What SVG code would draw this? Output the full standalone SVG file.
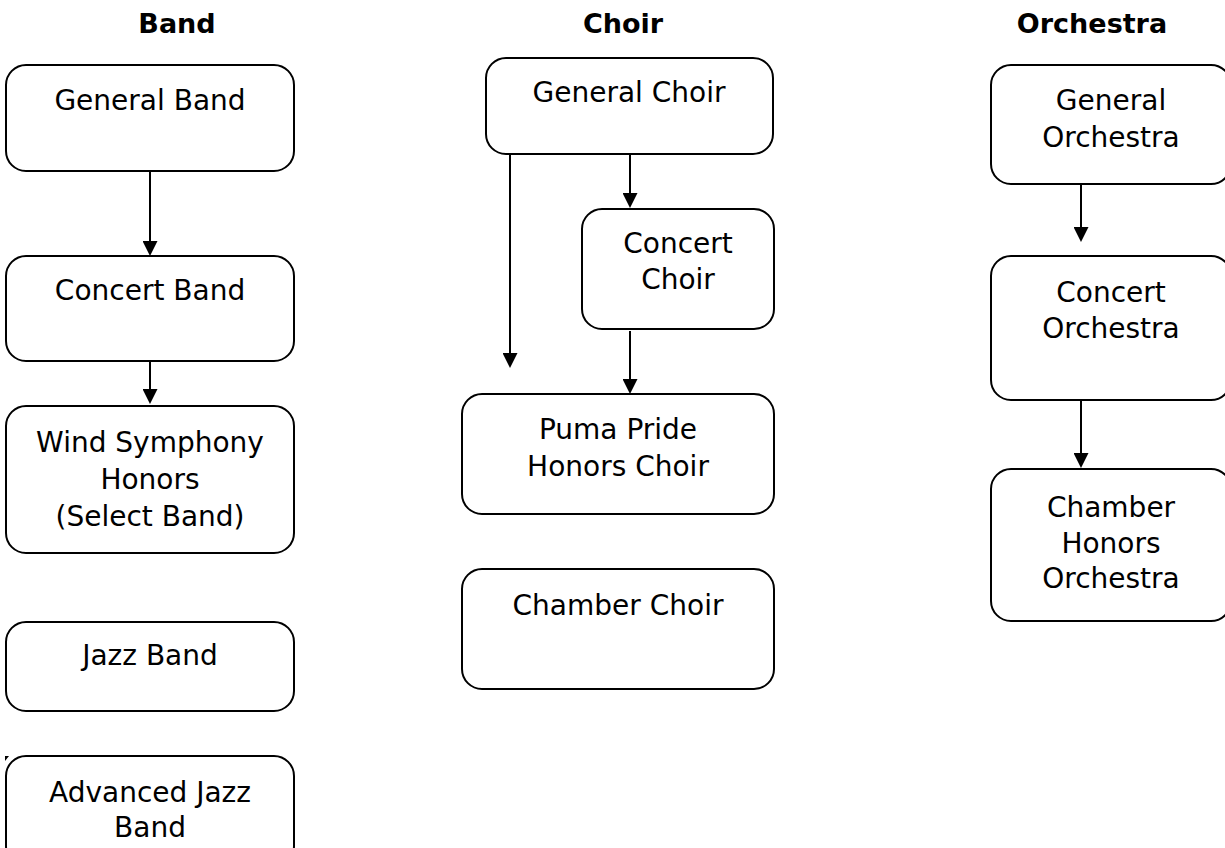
<svg xmlns="http://www.w3.org/2000/svg" width="1225" height="848" viewBox="0 0 1225 848">
<defs>
<style>
.box{fill:#fff;stroke:#000;stroke-width:2}
.t{font-family:"DejaVu Sans","Liberation Sans",sans-serif;font-size:28px;fill:#000;text-anchor:middle}
.h{font-family:"DejaVu Sans","Liberation Sans",sans-serif;font-size:27px;font-weight:bold;fill:#000;text-anchor:middle}
.c{stroke:#000;stroke-width:2;fill:none;marker-end:url(#ah)}
</style>
<marker id="ah" viewBox="0 0 10 10" refX="7.3" refY="5" markerWidth="15" markerHeight="15" markerUnits="userSpaceOnUse" orient="auto">
<path d="M0,0 L10,5 L0,10 z" fill="#000"/>
</marker>
</defs>
<rect width="1225" height="848" fill="#fff"/>
<g id="titles">
<text class="h" x="177" y="33">Band</text>
<text class="h" x="623" y="33">Choir</text>
<text class="h" x="1092" y="33">Orchestra</text>
</g>
<g id="connectors">
<line class="c" x1="150" y1="171" x2="150" y2="252"/>
<line class="c" x1="150" y1="361" x2="150" y2="400"/>
<line class="c" x1="510" y1="154" x2="510" y2="364"/>
<line class="c" x1="630" y1="154" x2="630" y2="204"/>
<line class="c" x1="630" y1="331" x2="630" y2="390"/>
<line class="c" x1="1081" y1="184" x2="1081" y2="238"/>
<line class="c" x1="1081" y1="400" x2="1081" y2="464"/>
</g>
<g id="general-band"><rect class="box" x="6" y="65" width="288" height="106" rx="20"/><text class="t" x="150" y="110">General Band</text></g>
<g id="concert-band"><rect class="box" x="6" y="256" width="288" height="105" rx="20"/><text class="t" x="150" y="300">Concert Band</text></g>
<g id="wind-symphony"><rect class="box" x="6" y="406" width="288" height="147" rx="20"/><text class="t" x="150" y="452">Wind Symphony</text><text class="t" x="150" y="489">Honors</text><text class="t" x="150" y="526">(Select Band)</text></g>
<g id="jazz-band"><rect class="box" x="6" y="622" width="288" height="89" rx="20"/><text class="t" x="150" y="665">Jazz Band</text></g>
<g id="advanced-jazz-band"><rect class="box" x="6" y="756" width="288" height="110" rx="20"/><path d="M5,756 L9,756 L5,761 z" fill="#000"/><text class="t" x="150" y="802">Advanced Jazz</text><text class="t" x="150" y="837">Band</text></g>
<g id="general-choir"><rect class="box" x="486" y="58" width="287" height="96" rx="20"/><text class="t" x="629" y="102">General Choir</text></g>
<g id="concert-choir"><rect class="box" x="582" y="209" width="192" height="120" rx="20"/><text class="t" x="678" y="253">Concert</text><text class="t" x="678" y="289">Choir</text></g>
<g id="puma-pride"><rect class="box" x="462" y="394" width="312" height="120" rx="20"/><text class="t" x="618" y="439">Puma Pride</text><text class="t" x="618" y="476">Honors Choir</text></g>
<g id="chamber-choir"><rect class="box" x="462" y="569" width="312" height="120" rx="20"/><text class="t" x="618" y="615">Chamber Choir</text></g>
<g id="general-orchestra"><rect class="box" x="991" y="65" width="240" height="119" rx="20"/><text class="t" x="1111" y="110">General</text><text class="t" x="1111" y="147">Orchestra</text></g>
<g id="concert-orchestra"><rect class="box" x="991" y="256" width="240" height="144" rx="20"/><text class="t" x="1111" y="302">Concert</text><text class="t" x="1111" y="338">Orchestra</text></g>
<g id="chamber-honors-orchestra"><rect class="box" x="991" y="469" width="240" height="152" rx="20"/><text class="t" x="1111" y="517">Chamber</text><text class="t" x="1111" y="553">Honors</text><text class="t" x="1111" y="588">Orchestra</text></g>
</svg>
